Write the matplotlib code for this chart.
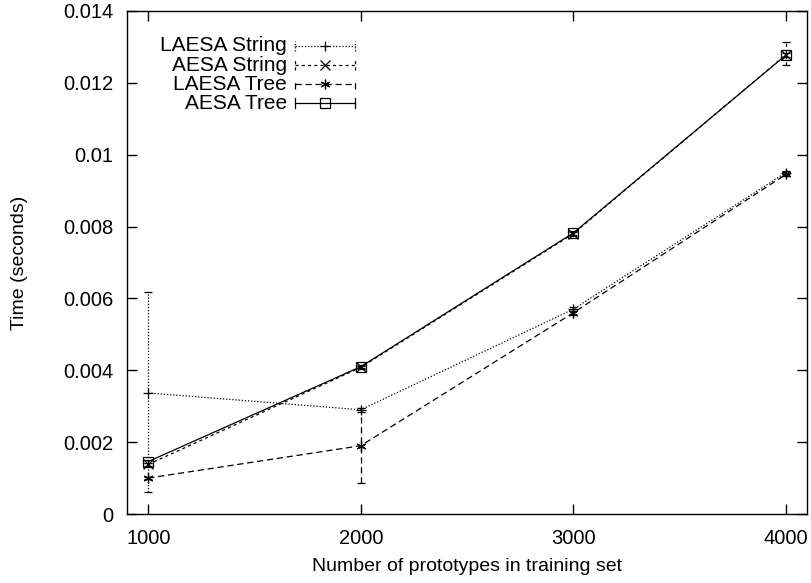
import numpy as np
import matplotlib.pyplot as plt

# dados
prototypes = [1000, 2000, 3000, 4000]

laesa_string = [0.00337, 0.00290, 0.00570, 0.00950]
laesa_string_lo = [0.00062, 0.00285, 0.00565, 0.00945]
laesa_string_hi = [0.00617, 0.00295, 0.00575, 0.00955]

aesa_string = [0.00138, 0.00408, 0.00780, 0.01278]
aesa_string_lo = [0.00133, 0.00403, 0.00775, 0.01250]
aesa_string_hi = [0.00143, 0.00413, 0.00785, 0.01315]

laesa_tree = [0.00100, 0.00190, 0.00560, 0.00945]
laesa_tree_lo = [0.00097, 0.00086, 0.00555, 0.00940]
laesa_tree_hi = [0.00103, 0.00296, 0.00565, 0.00950]

aesa_tree = [0.00146, 0.00410, 0.00782, 0.01277]
aesa_tree_lo = [0.00141, 0.00405, 0.00777, 0.01272]
aesa_tree_hi = [0.00151, 0.00415, 0.00787, 0.01282]

labels = ['LAESA String', 'AESA String', 'LAESA Tree', 'AESA Tree']

series = [
    (laesa_string, laesa_string_lo, laesa_string_hi, (0, (1, 1.5)), '+'),
    (aesa_string, aesa_string_lo, aesa_string_hi, (0, (2.5, 2.5)), 'x'),
    (laesa_tree, laesa_tree_lo, laesa_tree_hi, (0, (5, 3)), (6, 2, 0)),
    (aesa_tree, aesa_tree_lo, aesa_tree_hi, '-', 's'),
]

plt.rcParams['font.family'] = ['Liberation Sans', 'DejaVu Sans']

fig = plt.figure(figsize=(8.11, 5.83), dpi=100)
ax = fig.add_axes([127 / 811, 69 / 583, 680 / 811, 503 / 583])

x = np.array(prototypes)
for (y, lo, hi, ls, mk) in series:
    y = np.array(y)
    yerr = [y - np.array(lo), np.array(hi) - y]
    eb = ax.errorbar(x, y, yerr=yerr, color='black', lw=0.9, ls=ls,
                     marker=mk, ms=7, mfc='none', mew=0.9,
                     capsize=3, elinewidth=0.9, capthick=0.9)
    eb[2][0].set_linestyle(ls)

ax.set_xlim(900, 4100)
ax.set_ylim(0, 0.014)
ax.set_xticks(prototypes)
ax.set_yticks(np.arange(0, 0.0141, 0.002))
ax.set_yticklabels(['0', '0.002', '0.004', '0.006', '0.008', '0.01',
                    '0.012', '0.014'])
ax.tick_params(direction='in', top=True, right=True, length=7, width=1,
               labelsize=14.5)
ax.tick_params(axis='y', pad=10)
ax.tick_params(axis='x', pad=11)
for s in ax.spines.values():
    s.set_linewidth(1)

ax.set_xlabel('Number of prototypes in training set', fontsize=14, labelpad=7)
ax.set_ylabel('Time (seconds)', fontsize=14, labelpad=25)

# legenda manual estilo gnuplot
rows_y = [0.931, 0.892, 0.854, 0.817]
for i, (lab, (y, lo, hi, ls, mk)) in enumerate(zip(labels, series)):
    yy = rows_y[i]
    ax.text(0.235, yy, lab, transform=ax.transAxes, ha='right', va='center',
            fontsize=15)
    ax.plot([0.247, 0.335], [yy, yy], transform=ax.transAxes, color='black',
            lw=0.9, ls=ls)
    ax.plot([0.291], [yy], transform=ax.transAxes, color='black', marker=mk,
            ms=7, mfc='none', mew=0.9, ls='none')
    for xc in (0.247, 0.335):
        ax.plot([xc, xc], [yy - 0.01, yy + 0.01], transform=ax.transAxes,
                color='black', lw=0.9, ls=ls)

fig.savefig('out.png', dpi=100)
